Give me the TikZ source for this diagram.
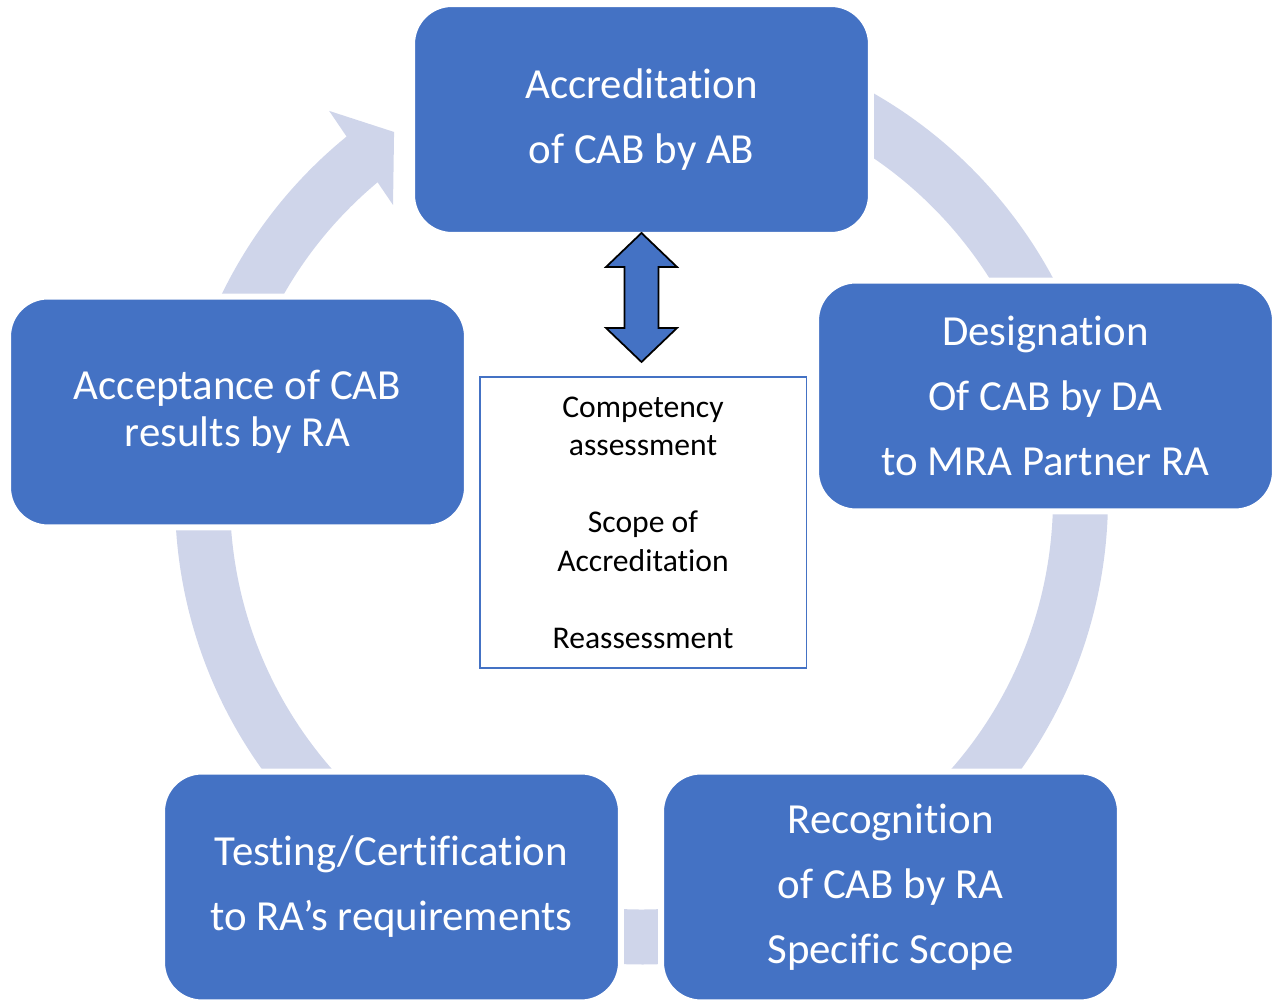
\documentclass[tikz,border=0pt]{standalone}
\usepackage{fontspec}
\setmainfont[Ligatures=NoCommon]{Carlito}
\definecolor{boxblue}{HTML}{4472C4}
\definecolor{ringblue}{HTML}{CFD5EA}

\begin{document}
\begin{tikzpicture}[x=0.02cm, y=0.02cm,
	stagebox/.style={rectangle, rounded corners=0.8cm, fill=boxblue, draw=white, line width=0.12cm, minimum width=9.18cm, minimum height=4.62cm, inner sep=0pt, text=white, align=center, font=\fontsize{24.4pt}{37pt}\selectfont},
	cyclering/.style={draw=ringblue, line width=1.1cm},
	taskbox/.style={rectangle, draw=boxblue, line width=1.1pt, fill=white, minimum width=6.54cm, minimum height=5.82cm, inner sep=0pt, align=center, font=\fontsize{18pt}{21.9pt}\selectfont},
	dblarrow/.style={fill=boxblue, draw=black, line width=1pt, line join=miter}]

	\useasboundingbox (0,0) rectangle (1274,1000);

	%cycle ring, drawn first so the boxes sit on top of it
	\coordinate (centre) at (641.5,502);
	\draw[cyclering] (centre) ++(129:439) arc[start angle=129, end angle=460, radius=439];
	%arrow head closing the ring, pointing at the top box
	\begin{scope}[shift={(centre)}]
		\fill[ringblue] (128.9:497.4) -- (124.06:441.8) -- (130.3:384.2) -- cycle;
	\end{scope}

	%stages of the cycle
	\node[stagebox] (accr) at (641.5,880.5) {Accreditation\\of CAB by AB};
	\node[stagebox] (desig) at (1045.5,604) {Designation\\Of CAB by DA\\to MRA Partner RA};
	\node[stagebox] (recog) at (890.5,113) {Recognition\\of CAB by RA\\Specific Scope};
	\node[stagebox] (test) at (391.5,113) {Testing/Certification\\to RA’s requirements};
	\node[stagebox, font=\fontsize{24.4pt}{26.75pt}\selectfont] (accept) at (237.5,588) {Acceptance of CAB\\results by RA};

	%what the accreditation covers
	\node[taskbox] (tasks) at (643,477.5) {Competency\\assessment\\[0.77cm]Scope of\\Accreditation\\[0.77cm]Reassessment};

	%double arrow between accreditation and its contents
	\begin{scope}[shift={(641.5,702.5)}]
		\draw[dblarrow] (0,64.5) -- (35.5,30.5) -- (17,30.5) -- (17,-30.5) -- (35.5,-30.5) -- (0,-64.5) -- (-35.5,-30.5) -- (-17,-30.5) -- (-17,30.5) -- (-35.5,30.5) -- cycle;
	\end{scope}

\end{tikzpicture}
\end{document}
